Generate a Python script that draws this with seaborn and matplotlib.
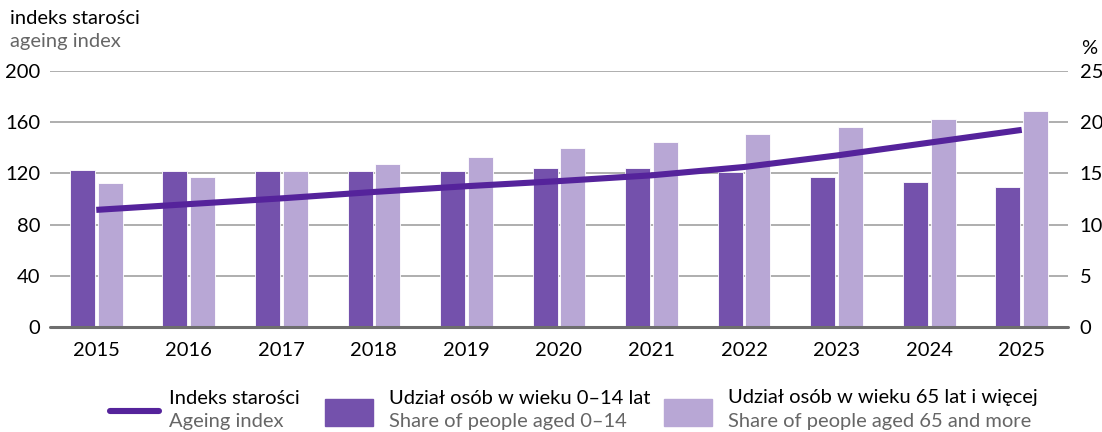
import matplotlib
matplotlib.use("Agg")
import matplotlib.pyplot as plt
import seaborn as sns
import pandas as pd
from matplotlib.lines import Line2D
from matplotlib.patches import Rectangle

years = ["2015", "2016", "2017", "2018", "2019", "2020", "2021", "2022", "2023", "2024", "2025"]
ageing_index = [91.5, 96.0, 100.5, 105.5, 110.0, 114.0, 118.5, 125.0, 134.0, 144.0, 154.0]
share_0_14 = [15.35, 15.25, 15.2, 15.2, 15.2, 15.55, 15.5, 15.15, 14.65, 14.2, 13.7]
share_65_plus = [14.05, 14.65, 15.2, 15.9, 16.6, 17.5, 18.1, 18.85, 19.55, 20.3, 21.05]

left_ticks = [0, 40, 80, 120, 160, 200]
right_ticks = [0, 5, 10, 15, 20, 25]

lbl_line_pl, lbl_line_en = "Indeks starości", "Ageing index"
lbl_young_pl, lbl_young_en = "Udział osób w wieku 0–14 lat", "Share of people aged 0–14"
lbl_old_pl, lbl_old_en = "Udział osób w wieku 65 lat i więcej", "Share of people aged 65 and more"

C_DARK = "#7451ac"
C_LIGHT = "#b8a7d5"
C_LINE = "#55239b"
C_GRAY = "#666666"
FS = 14.5

sns.set_theme(style="white")
plt.rcParams["font.family"] = ["Lato", "DejaVu Sans"]

fig = plt.figure(figsize=(11.02, 4.32), dpi=100)
ax = fig.add_axes([50 / 1102, 1 - 327 / 432, (1068 - 50) / 1102, (327 - 71) / 432])

df = pd.DataFrame({
    "year": years * 2,
    "value": share_0_14 + share_65_plus,
    "series": [lbl_young_pl] * len(years) + [lbl_old_pl] * len(years),
})

for t in right_ticks[1:]:
    ax.axhline(t, color="#a8a8a8", lw=1.3, zorder=0)

sns.barplot(data=df, x="year", y="value", hue="series", order=years,
            hue_order=[lbl_young_pl, lbl_old_pl], palette=[C_DARK, C_LIGHT],
            saturation=1, width=0.6, gap=0.1, edgecolor="white", linewidth=0.6,
            legend=False, ax=ax, zorder=2)
ax.axhline(0, color="#6e6e6e", lw=2.2, zorder=3, clip_on=False)

ax.set_xlim(-0.5, len(years) - 0.5)
ax.set_ylim(0, 25)
ax.set_yticks(right_ticks)
ax.set_xlabel("")
ax.set_ylabel("")
for s in ax.spines.values():
    s.set_visible(False)

ax2 = ax.twinx()
lf = pd.DataFrame({"x": list(range(len(years))), "y": ageing_index})
sns.lineplot(data=lf, x="x", y="y", ax=ax2, color=C_LINE, lw=4.4,
             solid_capstyle="butt", zorder=5)
ax2.set_ylim(0, 200)
ax2.set_yticks(left_ticks)
ax2.set_xlabel("")
ax2.set_ylabel("")
for s in ax2.spines.values():
    s.set_visible(False)

ax.yaxis.tick_right()
ax2.yaxis.tick_left()
ax.tick_params(axis="y", which="both", left=False, right=True, labelleft=False, labelright=True,
               length=0, pad=8.5, labelsize=FS, labelcolor="black")
ax.tick_params(axis="x", length=0, pad=11, labelsize=FS, labelcolor="black")
ax2.tick_params(axis="y", which="both", left=True, right=False, labelleft=True, labelright=False,
                length=0, pad=7, labelsize=FS, labelcolor="black")

# axis titles
fig.text(10 / 1102, 1 - 18 / 432, "indeks starości", fontsize=FS, color="black", va="center", ha="left")
fig.text(10 / 1102, 1 - 42 / 432, "ageing index", fontsize=FS, color=C_GRAY, va="center", ha="left")
fig.text(1097 / 1102, 1 - 48 / 432, "%", fontsize=FS, color="black", va="center", ha="right")

# legend
W, H = 1102, 432
fig.add_artist(Line2D([110 / W, 159 / W], [1 - 411 / H, 1 - 411 / H], color=C_LINE, lw=4.4,
                      solid_capstyle="round", transform=fig.transFigure))
fig.add_artist(Rectangle((325 / W, 1 - 426 / H), 48 / W, 27 / H, color=C_DARK, transform=fig.transFigure))
fig.add_artist(Rectangle((664 / W, 1 - 426 / H), 48 / W, 27 / H, color=C_LIGHT, transform=fig.transFigure))
for x, pl, en in [(169, lbl_line_pl, lbl_line_en), (389, lbl_young_pl, lbl_young_en), (728, lbl_old_pl, lbl_old_en)]:
    fig.text(x / W, 1 - 398 / H, pl, fontsize=FS, color="black", va="center", ha="left")
    fig.text(x / W, 1 - 421 / H, en, fontsize=FS, color=C_GRAY, va="center", ha="left")

fig.savefig("out.png", dpi=100)
